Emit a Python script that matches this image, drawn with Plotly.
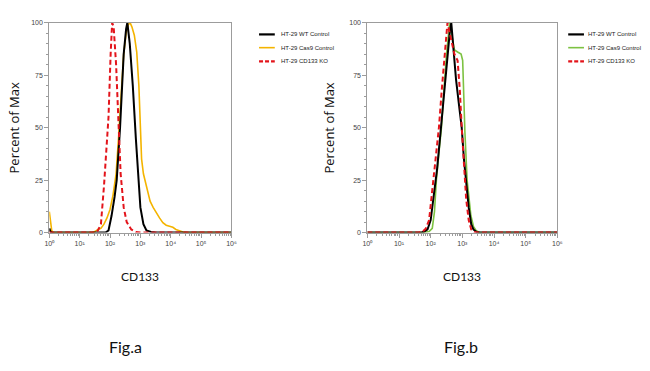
import plotly.graph_objects as go

# ---------------- data (log10 of CD133 intensity, percent of max) ----------------
# Fig.a
a_wt_logx = [0, 0.04, 0.08, 1.85, 1.95, 2.05, 2.15, 2.22, 2.33, 2.45, 2.53, 2.57, 2.65, 2.75, 2.85, 2.93, 3.0, 3.1, 3.2, 3.35, 3.5, 6]
a_wt_y    = [2, 0.5, 0, 0, 1, 8, 17, 25, 50, 85, 97, 100, 90, 70, 45, 25, 12, 4, 1, 0.3, 0, 0]

a_cas9_logx = [0, 0.04, 0.08, 0.12, 1.4, 1.5, 1.6, 1.7, 1.8, 1.9, 2.0, 2.1, 2.2, 2.28, 2.36, 2.45, 2.53, 2.6, 2.66, 2.72,
               2.8, 2.88, 2.95, 3.0, 3.04, 3.1, 3.18, 3.25, 3.32, 3.42, 3.52, 3.63, 3.74, 3.85, 3.96, 4.07, 4.17, 4.28, 4.4, 4.55, 6]
a_cas9_y    = [10, 5, 1, 0, 0, 0.5, 1.5, 2, 4, 7, 11, 18, 28, 45, 65, 85, 95, 99, 100, 98,
               94, 86, 70, 50, 35, 28, 23, 19, 15, 12, 9.5, 7, 4.7, 3.5, 3, 2.5, 1.5, 0.8, 0.3, 0, 0]

a_ko_logx = [0, 1.5, 1.6, 1.7, 1.8, 1.88, 1.95, 2.02, 2.07, 2.12, 2.2, 2.28, 2.35, 2.45, 2.55, 2.7, 2.85, 3.0, 6]
a_ko_y    = [0, 0, 1, 4, 22, 40, 55, 85, 100, 98, 80, 52, 28, 12, 5, 1.5, 0.3, 0, 0]

# Fig.b
b_wt_logx = [0, 1.7, 1.8, 1.9, 2.0, 2.1, 2.2, 2.3, 2.4, 2.5, 2.6, 2.65, 2.72, 2.8, 2.9, 2.98, 3.05, 3.12, 3.2, 3.28, 3.35, 3.45, 3.55, 6]
b_wt_y    = [0, 0, 0.5, 1.5, 6, 18, 30, 46, 63, 80, 95, 100, 88, 73, 60, 50, 35, 24, 12, 4, 1.5, 0.3, 0, 0]

b_cas9_logx = [0, 1.8, 1.95, 2.05, 2.12, 2.18, 2.26, 2.34, 2.42, 2.5, 2.6, 2.68, 2.75, 2.85, 2.96, 3.01, 3.05, 3.08, 3.15, 3.22, 3.27, 3.35, 3.43, 3.55, 6]
b_cas9_y    = [0, 0, 0.5, 2, 10, 25, 38, 50, 68, 85, 100, 92, 87, 86, 85, 82, 60, 48, 25, 14, 8, 3, 1, 0, 0]

b_ko_logx = [0, 1.6, 1.75, 1.85, 1.95, 2.05, 2.15, 2.26, 2.35, 2.45, 2.53, 2.6, 2.67, 2.75, 2.85, 2.92, 2.98, 3.04, 3.12, 3.2, 3.28, 3.38, 3.5, 6]
b_ko_y    = [0, 0, 0.5, 2, 6, 20, 35, 50, 68, 88, 100, 95, 90, 85, 82, 68, 50, 33, 16, 6, 1.5, 0.3, 0, 0]

series_names = ["HT-29 WT Control", "HT-29 Cas9 Control", "HT-29 CD133 KO"]
x_tick_exponents = [0, 1, 2, 3, 4, 5, 6]
x_tick_labels = ["10⁰", "10¹", "10²", "10³", "10⁴", "10⁵", "10⁶"]
y_tick_values = [0, 25, 50, 75, 100]
panel_titles = ["Fig.a", "Fig.b"]
x_title = "CD133"
y_title = "Percent of Max"

# ---------------- styling ----------------
BLACK = "#000000"
YELLOW = "#F4B400"
GREEN = "#7DC242"
RED = "#E3141B"
AXIS = "#9c9c9c"
W, H = 650, 371


def px_x(v):
    return v / W


def px_y(v):
    return 1 - v / H


def tox(logs):
    return [10 ** v for v in logs]


fig = go.Figure()

panels = [
    ("x", "y", [(a_cas9_logx, a_cas9_y, YELLOW, "solid", 1.6, 1),
                (a_wt_logx, a_wt_y, BLACK, "solid", 2, 0),
                (a_ko_logx, a_ko_y, RED, "dash", 2, 2)]),
    ("x2", "y2", [(b_cas9_logx, b_cas9_y, GREEN, "solid", 1.6, 1),
                  (b_wt_logx, b_wt_y, BLACK, "solid", 2, 0),
                  (b_ko_logx, b_ko_y, RED, "dash", 2, 2)]),
]
for xa, ya, traces in panels:
    for lx, ly, col, dash, wdt, idx in traces:
        fig.add_trace(go.Scatter(
            x=tox(lx), y=ly, mode="lines", name=series_names[idx],
            line=dict(color=col, width=wdt, dash="5px,3px" if dash == "dash" else "solid"),
            xaxis=xa, yaxis=ya, showlegend=False, hoverinfo="skip"))

tickvals = [10 ** e for e in x_tick_exponents]
minor_vals = [m * 10 ** e for e in x_tick_exponents[:-1] for m in range(2, 10)]

common_x = dict(type="log", range=[0, 6], showline=True, linecolor=AXIS, linewidth=1, mirror=True,
                ticks="outside", ticklen=4, tickcolor=AXIS, tickvals=tickvals, ticktext=x_tick_labels,
                tickfont=dict(family="Liberation Sans, Arial", size=7, color="#444"),
                minor=dict(tickvals=minor_vals, ticks="outside", ticklen=2, tickcolor=AXIS),
                showgrid=False, zeroline=False, fixedrange=True)
common_y = dict(range=[0, 100], showline=True, linecolor=AXIS, linewidth=1, mirror=True,
                ticks="outside", ticklen=4, tickcolor=AXIS, tickvals=y_tick_values,
                tickfont=dict(family="Liberation Sans, Arial", size=7, color="#444"),
                minor=dict(dtick=5, ticks="outside", ticklen=2, tickcolor=AXIS),
                showgrid=False, zeroline=False, fixedrange=True,
                domain=[px_y(233), px_y(19)])

fig.update_layout(
    width=W, height=H, margin=dict(l=0, r=0, t=0, b=0),
    paper_bgcolor="white", plot_bgcolor="white", showlegend=False,
    xaxis=dict(common_x, domain=[px_x(45), px_x(230)], anchor="y"),
    yaxis=dict(common_y, anchor="x"),
    xaxis2=dict(common_x, domain=[px_x(368), px_x(561)], anchor="y2"),
    yaxis2=dict(common_y, anchor="x2"),
)

ann = []
shapes = []
# axis titles and panel labels
for cx, ytx, fig_lbl, fcx in [(137, 9, panel_titles[0], 122), (464, 329, panel_titles[1], 463)]:
    ann.append(dict(x=px_x(cx), y=px_y(278), xref="paper", yref="paper", text=x_title, showarrow=False,
                    xanchor="center", yanchor="middle",
                    font=dict(family="Lato", size=12, color="#111")))
    ann.append(dict(x=px_x(ytx), y=px_y(126), xref="paper", yref="paper", text=y_title, showarrow=False,
                    xanchor="center", yanchor="middle",
                    textangle=-90, font=dict(family="Open Sans", size=13, color="#111")))
    ann.append(dict(x=px_x(fcx), y=px_y(349), xref="paper", yref="paper", text=fig_lbl, showarrow=False,
                    xanchor="center", yanchor="middle",
                    font=dict(family="Lato", size=16, color="#111")))

# legends
legend_sets = [
    (258, 274, 278, [BLACK, YELLOW, RED]),
    (572, 588, 590, [BLACK, GREEN, RED]),
]
legend_rows = [31, 44.5, 58.5]
legend_sizes = [6, 6, 6]
for x0, x1, tx, cols in legend_sets:
    for i, col in enumerate(cols):
        yy = px_y(legend_rows[i])
        shapes.append(dict(type="line", xref="paper", yref="paper", x0=px_x(x0), x1=px_x(x1), y0=yy, y1=yy,
                           line=dict(color=col, width=2.2 if i != 1 else 1.6, dash="4px,2px" if i == 2 else "solid")))
        ann.append(dict(x=px_x(tx), y=yy, xref="paper", yref="paper", xanchor="left", yanchor="middle",
                        text=series_names[i], showarrow=False,
                        font=dict(family="Liberation Sans, Arial", size=legend_sizes[i], color="#222")))

fig.update_layout(annotations=ann, shapes=shapes)
fig.write_html("out.html", config={"displayModeBar": False},
               post_script="document.body.style.margin='0';")
